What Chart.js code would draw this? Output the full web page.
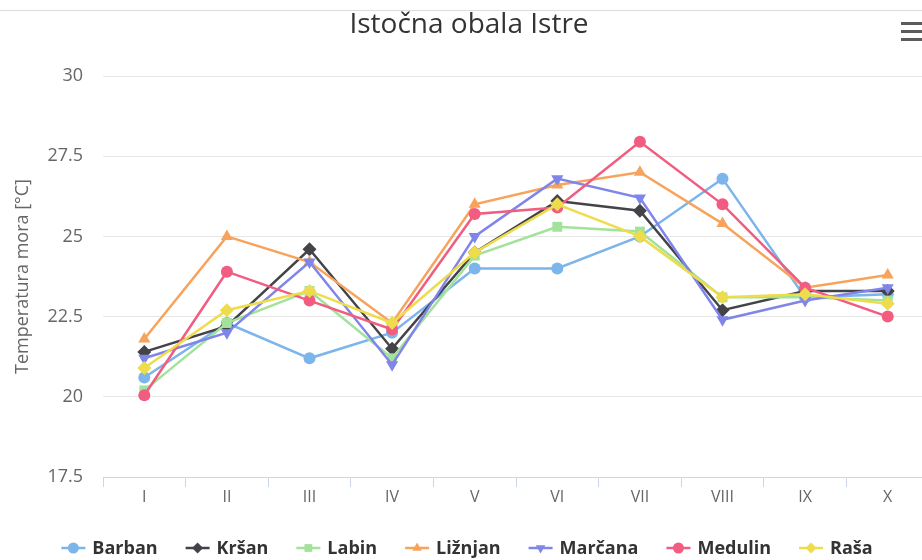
<!DOCTYPE html>
<html>
<head>
<meta charset="utf-8">
<title>Istočna obala Istre</title>
<script src="https://cdn.jsdelivr.net/npm/chart.js@4.4.1/dist/chart.umd.min.js"></script>
<style>
  html, body { margin: 0; padding: 0; background: #fff; overflow: hidden; }
  #wrap { position: relative; width: 936px; height: 560px; }
  #wrap canvas { display: block; }
  #topline { position: absolute; left: 0; top: 10px; width: 936px; height: 1px; background: #dcdcdc; }
  #menu { position: absolute; left: 901px; top: 22px; width: 24px; }
  #menu span { display: block; height: 3px; background: #5c5c5c; margin-bottom: 5px; }
</style>
</head>
<body>
<div id="wrap">
  <div id="topline"></div>
  <canvas id="seaTempChart" width="936" height="560"></canvas>
  <div id="menu"><span></span><span></span><span></span></div>
</div>
<script>
// months (x categories) and y ticks
const months = ['I', 'II', 'III', 'IV', 'V', 'VI', 'VII', 'VIII', 'IX', 'X'];
const yTicks = [17.5, 20, 22.5, 25, 27.5, 30];

// sea temperature per station [°C]
const barban  = [20.6, 22.3, 21.2, 22.0, 24.0, 24.0, 25.0, 26.8, 23.1, 23.2];
const krsan   = [21.4, 22.2, 24.6, 21.5, 24.5, 26.1, 25.8, 22.7, 23.3, 23.3];
const labin   = [20.2, 22.3, 23.3, 21.2, 24.4, 25.3, 25.15, 23.1, 23.1, 23.0];
const liznjan = [21.8, 25.0, 24.2, 22.3, 26.0, 26.6, 27.0, 25.4, 23.4, 23.8];
const marcana = [21.2, 22.0, 24.2, 21.0, 25.0, 26.8, 26.2, 22.4, 23.0, 23.4];
const medulin = [20.05, 23.9, 23.0, 22.1, 25.7, 25.9, 27.95, 26.0, 23.4, 22.5];
const rasa    = [20.9, 22.7, 23.3, 22.3, 24.5, 26.0, 25.0, 23.1, 23.2, 22.9];

const FONT = '"Open Sans", "DejaVu Sans", sans-serif';

function series(label, data, color, pointStyle, rotation) {
    return {
        label,
        data,
        borderColor: color,
        backgroundColor: color,
        pointBackgroundColor: color,
        pointBorderColor: color,
        pointBorderWidth: 0,
        pointStyle,
        pointRotation: rotation || 0,
        pointRadius: pointStyle === 'circle' ? 6 : 7,
        borderWidth: 2.5,
        tension: 0,
        fill: false
    };
}

const datasets = [
    series('Barban', barban, '#7cb5ec', 'circle'),
    series('Kršan', krsan, '#434348', 'rectRot'),
    series('Labin', labin, '#a3e29a', 'rect'),
    series('Ližnjan', liznjan, '#f7a35c', 'triangle'),
    series('Marčana', marcana, '#8085e9', 'triangle', 180),
    series('Medulin', medulin, '#f15c80', 'circle'),
    series('Raša', rasa, '#eedc4c', 'rectRot')
];
// later series on top, like the original
datasets.forEach((ds, i) => { ds.order = datasets.length - i; });

// legend with line + marker symbol, drawn under the axis
const lineLegend = {
    id: 'lineLegend',
    afterDraw(chart, args, opts) {
        const ctx = chart.ctx;
        ctx.save();
        ctx.font = 'bold 18px ' + FONT;
        const symW = 24, symGap = 7, itemGap = 28;
        const items = chart.data.datasets.map(ds => ({ ds, w: ctx.measureText(ds.label).width }));
        const total = items.reduce((s, it) => s + symW + symGap + it.w, 0) + itemGap * (items.length - 1);
        let x = opts.centerX - total / 2;
        const y = opts.y;
        items.forEach(({ ds, w }) => {
            ctx.strokeStyle = ds.borderColor;
            ctx.lineWidth = 2.5;
            ctx.beginPath();
            ctx.moveTo(x, y);
            ctx.lineTo(x + symW, y);
            ctx.stroke();
            ctx.fillStyle = ds.pointBackgroundColor;
            Chart.helpers.drawPoint(ctx, {
                pointStyle: ds.pointStyle,
                rotation: ds.pointRotation,
                radius: 5.5,
                borderWidth: 0
            }, x + symW / 2, y);
            ctx.fillStyle = '#333333';
            ctx.textAlign = 'left';
            ctx.textBaseline = 'middle';
            ctx.fillText(ds.label, x + symW + symGap, y + 1);
            x += symW + symGap + w + itemGap;
        });
        ctx.restore();
    }
};

new Chart(document.getElementById('seaTempChart'), {
    type: 'line',
    data: { labels: months, datasets },
    plugins: [lineLegend],
    options: {
        responsive: false,
        animation: false,
        layout: { padding: { left: 8, right: 6, top: 0, bottom: 30 } },
        plugins: {
            legend: { display: false },
            tooltip: { enabled: false },
            title: {
                display: true,
                text: 'Istočna obala Istre',
                color: '#333333',
                font: { family: FONT, size: 28, weight: 'normal' },
                padding: { top: 8, bottom: 34.4 }
            },
            lineLegend: { centerX: 467, y: 548 }
        },
        scales: {
            x: {
                offset: true,
                grid: {
                    offset: true,
                    drawOnChartArea: false,
                    drawTicks: true,
                    tickLength: 10,
                    color: '#ccd6eb'
                },
                border: { color: '#ccd6eb' },
                ticks: {
                    color: '#666666',
                    font: { family: FONT, size: 16 },
                    padding: 1,
                    autoSkip: false,
                    maxRotation: 0
                },
                afterFit: s => { s.height = 53; }
            },
            y: {
                min: 17.5,
                max: 30,
                afterBuildTicks: s => { s.ticks = yTicks.map(v => ({ value: v })); },
                ticks: {
                    color: '#666666',
                    font: { family: FONT, size: 18 },
                    padding: 20
                },
                grid: {
                    drawTicks: false,
                    color: c => (c.tick && c.tick.value === 17.5) ? 'rgba(0,0,0,0)' : '#e6e6e6'
                },
                border: { display: false },
                title: {
                    display: true,
                    text: 'Temperatura mora [°C]',
                    color: '#666666',
                    font: { family: FONT, size: 18 },
                    padding: { top: 4, bottom: 0 }
                },
                afterFit: s => { s.width = 95; }
            }
        }
    }
});
</script>
</body>
</html>
